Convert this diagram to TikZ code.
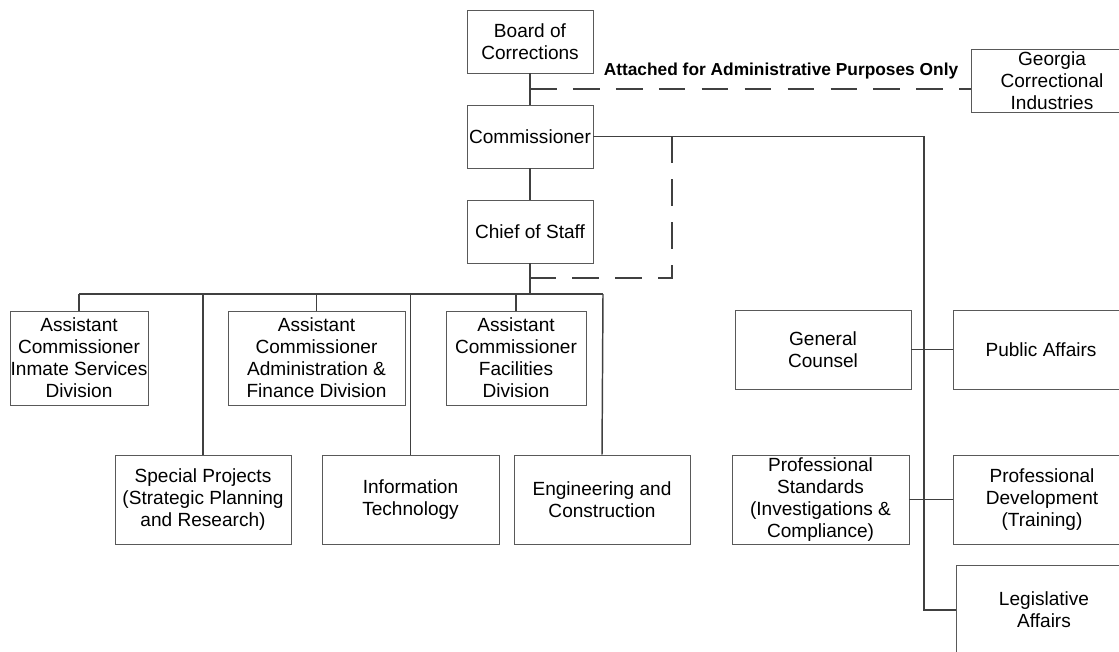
\documentclass[tikz,border=0pt]{standalone}
\usepackage{fontspec}
\setmainfont{Liberation Sans}
\usepackage{tikz}
\usetikzlibrary{calc}

\begin{document}
\begin{tikzpicture}[x=0.75pt, y=-0.75pt,
  box/.style={draw=black!65, line width=0.7pt, rectangle, inner sep=0pt, align=center,
    font=\fontsize{14.3}{16.5}\selectfont, minimum width=132pt, minimum height=66.75pt},
  conn/.style={draw=black!75, line width=1.1pt},
  dashconn/.style={draw=black!75, line width=1.1pt, dash pattern=on 20pt off 12.2pt}]
  \clip (0,0) rectangle (1119,652);
  % top of the chart
  \node[box, minimum width=94.5pt, minimum height=47.25pt] (board) at (530,41.5) {Board of\\Corrections};
  \node[box, minimum width=94.5pt, minimum height=47.25pt] (commish) at (530,136.5) {Commissioner};
  \node[box, minimum width=94.5pt, minimum height=47.25pt] (chief) at (530,231.5) {Chief of Staff};
  \node[box, minimum width=121.5pt, minimum height=47.25pt] (georgia) at (1052,80.5) {Georgia\\Correctional\\Industries};
  % assistant commissioners
  \node[box, minimum width=103.5pt, minimum height=70.5pt] (inmate) at (79,358) {Assistant\\Commissioner\\Inmate Services\\Division};
  \node[box, minimum width=132.75pt, minimum height=70.5pt] (adminfin) at (316.5,358) {Assistant\\Commissioner\\Administration \&\\Finance Division};
  \node[box, minimum width=105pt, minimum height=70.5pt] (facil) at (516,358) {Assistant\\Commissioner\\Facilities\\Division};
  % lower row
  \node[box] (special) at (203,499.5) {Special Projects\\(Strategic Planning\\and Research)};
  \node[box, minimum width=132.75pt] (infotech) at (410.5,499.5) {Information\\Technology};
  \node[box] (engin) at (602,499.5) {Engineering and\\Construction};
  % staff on the right
  \node[box, minimum height=59.25pt] (counsel) at (823,349.5) {General\\Counsel};
  \node[box, minimum height=59.25pt] (pubaff) at (1041,349.5) {Public Affairs};
  \node[box, minimum width=132.75pt] (profstd) at (820.5,499.5) {Professional\\Standards\\(Investigations \&\\Compliance)};
  \node[box, minimum width=133.5pt] (profdev) at (1042,499.5) {Professional\\Development\\(Training)};
  \node[box, minimum height=67.5pt] (legis) at (1044,610) {Legislative\\Affairs};

  \coordinate (attach) at (530,89);
  \coordinate (spine) at (924,610);
  \coordinate (dashcorner) at (672,278);
  \coordinate (busL) at (79,294);
  \coordinate (busR) at (603,294);

  \draw[conn] (board) -- (commish);
  \draw[conn] (commish) -- (chief);
  \draw[dashconn] (attach) -- (attach -| georgia.west);
  \node[font=\fontsize{13}{15}\selectfont\bfseries, anchor=south, inner sep=0pt] (attlabel) at (781,79) {Attached for Administrative Purposes Only};
  \draw[conn] (commish.east) -| (spine) -- (legis.west);
  \draw[dashconn] (commish.east -| dashcorner) -- (dashcorner) -- (dashcorner -| chief.south);
  \draw[conn] (counsel.east) -- (pubaff.west);
  \draw[conn] (profstd.east) -- (profdev.west);
  % bus under the chief of staff
  \draw[conn] (chief.south) -- (chief.south |- busL);
  \draw[conn, line width=1.6pt] (busL) -- (chief.south |- busL);
  \draw[conn] (chief.south |- busR) -- (busR);
  \draw[conn] (busL) -- (inmate.north);
  \draw[conn] (special.north |- busL) -- (special.north);
  \draw[conn] (adminfin.north |- busL) -- (adminfin.north);
  \draw[conn] (infotech.north |- busL) -- (infotech.north);
  \draw[conn] (facil.north |- busL) -- (facil.north);
  \draw[conn] (busR) -- (engin.north);
\end{tikzpicture}
\end{document}
